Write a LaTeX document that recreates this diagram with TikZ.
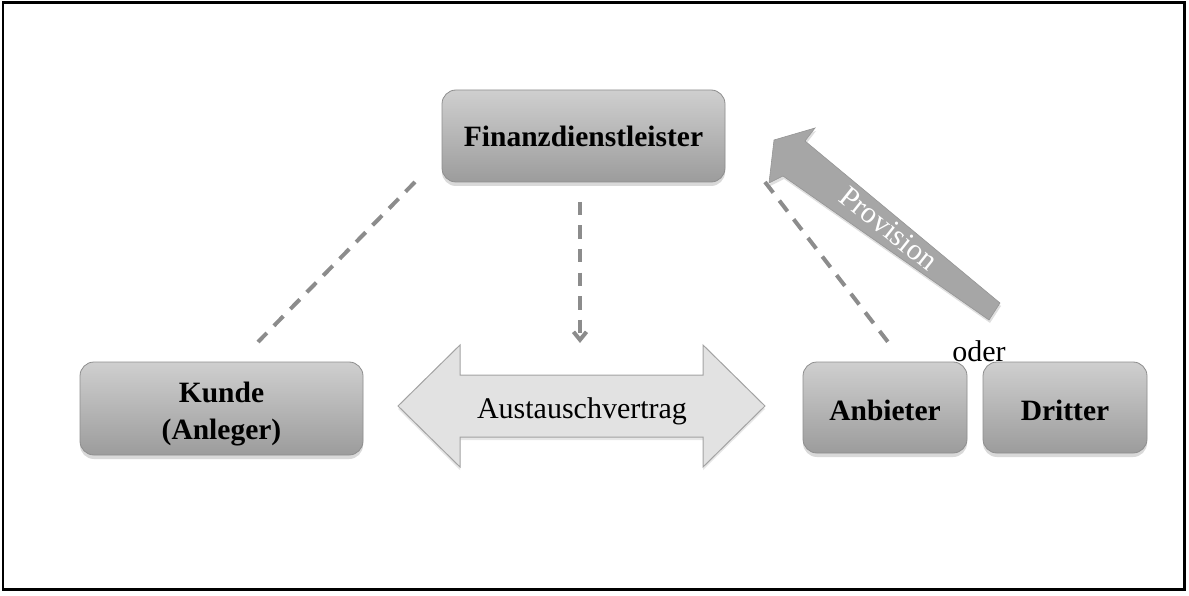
\documentclass[tikz,border=0pt]{standalone}
\usepackage{fontspec}
\setmainfont{Liberation Serif}
\usetikzlibrary{shadows,arrows.meta}
\definecolor{boxtop}{HTML}{CFCFCF}
\definecolor{boxbot}{HTML}{9C9C9C}
\definecolor{boxline}{HTML}{8E8E8E}
\definecolor{dashgray}{HTML}{8C8C8C}
\definecolor{arrfill}{HTML}{E2E2E2}
\definecolor{arrline}{HTML}{A3A3A3}
\definecolor{provfill}{HTML}{A6A6A6}
\definecolor{provline}{HTML}{959595}
\begin{document}
\begin{tikzpicture}[x=1pt,y=-1pt,
  box/.style={draw=boxline, line width=0.8pt, rounded corners=14pt,
    top color=boxtop, bottom color=boxbot, minimum height=92pt,
    inner sep=0pt, align=center,
    font=\fontsize{29.5}{37}\selectfont\bfseries,
    drop shadow={opacity=0.3, shadow xshift=0pt, shadow yshift=-4pt}},
  wide/.style={box, minimum width=283pt},
  narrow/.style={box, minimum width=164pt, minimum height=91pt},
  dashline/.style={draw=dashgray, line width=4pt, dash pattern=on 13.5pt off 10pt},
  lbl/.style={font=\fontsize{30}{36}\selectfont, inner sep=0pt}
]
\useasboundingbox (0,0) rectangle (1189,596);
\draw[line width=2.5pt] (3,2.5) rectangle (1184.3,589.5);

% boxes
\node[wide] (fin) at (583.5,136) {Finanzdienstleister};
\node[wide, minimum height=93pt] (kun) at (221.5,408.5) {\rule{0pt}{32pt}Kunde\\(Anleger)};
\node[narrow] (anb) at (885,407.5) {\rule{0pt}{26pt}Anbieter};
\node[narrow] (dri) at (1065,407.5) {\rule{0pt}{26pt}Dritter};
\node[lbl, anchor=base] (oder) at (979,361) {oder};

% double arrow
\draw[fill=arrfill, draw=arrline, line width=1pt,
  drop shadow={opacity=0.2, shadow xshift=0pt, shadow yshift=-3pt}]
  (398,406) -- (460,345) -- (460,375) -- (703,375) -- (703,345) -- (765,406)
  -- (703,467) -- (703,437) -- (460,437) -- (460,467) -- cycle;
\node[lbl, anchor=base] (aus) at (582,418) {Austauschvertrag};

% provision arrow
\draw[fill=provfill, draw=provline, line width=0.6pt,
  drop shadow={opacity=0.25, shadow xshift=1pt, shadow yshift=-3pt}]
  (774,140) -- (815,128) -- (805,141) -- (1000,303) -- (989,320)
  -- (783,176) -- (769,183) -- cycle;
\node[lbl, text=white, rotate=-38.5] (prov) at (889,228.5) {Provision};

% dashed connectors
\coordinate (l1) at (415,182);
\coordinate (l2) at (258,342);
\coordinate (m1) at (580,202);
\coordinate (m2) at (580,343);
\coordinate (r1) at (765,182);
\coordinate (r2) at (888,342);
\draw[dashline] (l1) -- (l2);
\draw[dashline, -{Straight Barb[length=8pt,width=13pt]}] (m1) -- (m2);
\draw[dashline] (r1) -- (r2);
\end{tikzpicture}
\end{document}
